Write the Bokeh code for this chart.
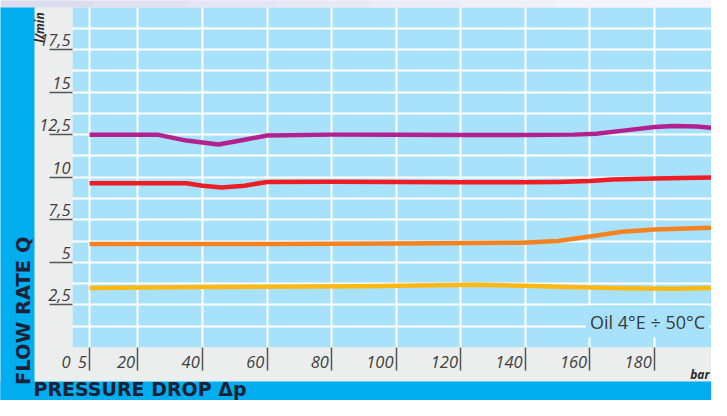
import math
from bokeh.plotting import figure
from bokeh.models import Range1d, FixedTicker, LinearAxis, Label, Grid
from bokeh.embed import file_html
from bokeh.resources import INLINE

# ---------------- data ----------------
x_ticks = [0, 5, 20, 40, 60, 80, 100, 120, 140, 160, 180]
x_tick_labels = ["0", "5", "20", "40", "60", "80", "100", "120", "140", "160", "180"]
x_bar_ticks = [5, 20, 40, 60, 80, 100, 120, 140, 160, 180]
y_ticks = [2.5, 5, 7.5, 10, 12.5, 15, 17.5]
y_tick_labels = ["2,5", "5", "7,5", "10", "12,5", "15", "17,5"]
y_grid = [1.25, 2.5, 3.75, 5, 6.25, 7.5, 8.75, 10, 11.25, 12.5, 13.75, 15, 16.25, 17.5, 18.75]

purple_x = [5, 26, 35, 45, 53, 60, 80, 100, 120, 140, 155, 162, 171, 180, 186, 193, 198]
purple_y = [12.5, 12.5, 12.15, 11.92, 12.2, 12.45, 12.5, 12.5, 12.48, 12.48, 12.5, 12.55, 12.75, 12.95, 13.0, 12.98, 12.9]

red_x = [5, 35, 40, 46, 53, 60, 80, 100, 120, 140, 150, 160, 167, 180, 198]
red_y = [9.65, 9.65, 9.5, 9.4, 9.5, 9.72, 9.74, 9.72, 9.7, 9.7, 9.72, 9.78, 9.87, 9.92, 9.98]

orange_x = [5, 60, 100, 139, 150, 160, 170, 180, 198]
orange_y = [6.08, 6.08, 6.1, 6.15, 6.25, 6.52, 6.8, 6.93, 7.04]

yellow_x = [5, 40, 89, 125, 140, 150, 171, 186, 198]
yellow_y = [3.5, 3.55, 3.6, 3.68, 3.62, 3.56, 3.48, 3.45, 3.5]

# ---------------- layout constants (pixels) ----------------
W, H = 711, 400
OFF = 0                       # picture offset of the canvas
X0_PX, X_PER = 72.86, 3.2286  # x pixel of value 0, px per bar
Y0_PX, Y_PER = 347.0, 17.03   # y pixel of value 0, px per l/min


def dx(px):
    return (px - X0_PX) / X_PER


def dy(py):
    return (Y0_PX - py) / Y_PER


PLOT_BG = "#A8E1FA"
PANEL = "#ECEEEE"
BAND = "#00ADEF"
NAVY = "#1c2236"
TICK_TXT = "#3f3f3f"
FONT = "Open Sans"
TOP_STRIP = ["#DCDCEF", "#E0E0F1", "#E4E4F3", "#E8E8F5", "#ECECF6", "#F0F0F8", "#F3F3F9", "#F5F5FB"]

p = figure(width=W, height=H, output_backend="svg", toolbar_location=None,
           x_range=Range1d(dx(OFF), dx(OFF + W)), y_range=Range1d(dy(OFF + H), dy(OFF)),
           x_axis_type=None, y_axis_type=None,
           min_border=0)
p.background_fill_color = PANEL
p.border_fill_color = PANEL
p.outline_line_color = None
p.xgrid.visible = False
p.ygrid.visible = False

# plotting area background (under the grid)
p.quad(left=[dx(72)], right=[dx(717)], bottom=[0], top=[dy(7)],
       fill_color=PLOT_BG, line_color=None, level="underlay")

# grid
gx = Grid(dimension=0, ticker=FixedTicker(ticks=x_bar_ticks), grid_line_color="white", grid_line_width=2)
gy = Grid(dimension=1, ticker=FixedTicker(ticks=y_grid), grid_line_color="white", grid_line_width=2)
p.add_layout(gx)
p.add_layout(gy)

# surrounding panels (drawn above the grid so that grid lines stop at the plotting area)
p.quad(left=[dx(34), dx(34)], right=[dx(72), dx(717)], bottom=[dy(430), dy(430)], top=[dy(7), 0],
       fill_color=PANEL, line_color=None)
p.quad(left=[dx(713)], right=[dx(714.7)], bottom=[0], top=[dy(7)],
       fill_color="white", line_color=None)
seg = 740 / len(TOP_STRIP)
p.quad(left=[dx(i * seg) for i in range(len(TOP_STRIP))],
       right=[dx((i + 1) * seg + 1) for i in range(len(TOP_STRIP))],
       bottom=[dy(7)] * len(TOP_STRIP), top=[dy(-5)] * len(TOP_STRIP),
       fill_color=TOP_STRIP, line_color=None)
p.quad(left=[dx(717)], right=[dx(740)], bottom=[dy(430)], top=[dy(7)],
       fill_color="#F3F3FA", line_color=None)
p.quad(left=[dx(-5)], right=[dx(34)], bottom=[dy(430)], top=[dy(7)],
       fill_color=BAND, line_color=None)
p.quad(left=[dx(-5)], right=[dx(717)], bottom=[dy(430)], top=[dy(381)],
       fill_color=BAND, line_color=None)

# x axis
xax = LinearAxis(ticker=FixedTicker(ticks=x_ticks, minor_ticks=x_bar_ticks), fixed_location=0)
xax.major_label_overrides = {t: lab + "\u2007" * len(lab) + "\u2009\u2009" for t, lab in zip(x_ticks, x_tick_labels)}
xax.major_tick_out = 0
xax.major_tick_in = 0
xax.major_tick_line_color = None
xax.minor_tick_out = 23
xax.minor_tick_in = 0
xax.minor_tick_line_color = "#555555"
xax.minor_tick_line_width = 1.5
xax.axis_line_color = None
xax.major_label_standoff = -21
xax.major_label_text_font = FONT
xax.major_label_text_font_style = "italic"
xax.major_label_text_font_size = "16.5px"
xax.major_label_text_color = TICK_TXT
p.add_layout(xax, "below")

# y axis
shift = 0.56
y_label_pos = [v + shift for v in y_ticks]
yax = LinearAxis(ticker=FixedTicker(ticks=y_label_pos, minor_ticks=y_ticks), fixed_location=dx(72))
yax.major_label_overrides = {t: lab for t, lab in zip(y_label_pos, y_tick_labels)}
yax.major_tick_out = 0
yax.major_tick_in = 0
yax.major_tick_line_color = None
yax.minor_tick_out = 23
yax.minor_tick_in = 0
yax.minor_tick_line_color = "#555555"
yax.minor_tick_line_width = 1.5
yax.axis_line_color = None
yax.major_label_standoff = -21
yax.major_label_text_font = FONT
yax.major_label_text_font_style = "italic"
yax.major_label_text_font_size = "16.5px"
yax.major_label_text_color = TICK_TXT
p.add_layout(yax, "left")

# data lines
p.line(purple_x, purple_y, line_color="#B3218F", line_width=4.5, line_join="round")
p.line(red_x, red_y, line_color="#EE1C25", line_width=4.5, line_join="round")
p.line(orange_x, orange_y, line_color="#F58220", line_width=4.5, line_join="round")
p.line(yellow_x, yellow_y, line_color="#FDB813", line_width=4.5, line_join="round")

# texts
p.add_layout(Label(x=dx(22.5), y=dy(384.5), text="FLOW RATE Q", angle=math.pi / 2,
                   text_align="left", text_baseline="middle", text_font="DejaVu Sans",
                   text_font_style="bold", text_font_size="19.5px", text_color=NAVY))
p.add_layout(Label(x=dx(33), y=dy(388.5), text="PRESSURE DROP \u0394p",
                   text_align="left", text_baseline="middle", text_font="DejaVu Sans",
                   text_font_style="bold", text_font_size="19px", text_color=NAVY))
p.add_layout(Label(x=dx(39), y=dy(27), text="l/min", angle=math.pi / 2,
                   text_align="center", text_baseline="middle", text_font=FONT,
                   text_font_style="bold italic", text_font_size="12px", text_color="#2a2a2a"))
p.add_layout(Label(x=dx(709), y=dy(374), text="bar",
                   text_align="right", text_baseline="middle", text_font=FONT,
                   text_font_style="bold italic", text_font_size="12px", text_color="#2a2a2a"))
p.add_layout(Label(x=dx(647), y=dy(321), text="Oil 4\u00b0E \u00f7 50\u00b0C",
                   text_align="center", text_baseline="middle", text_font=FONT,
                   text_font_size="18px", text_color="#3a3a3a",
                   background_fill_color=PLOT_BG, background_fill_alpha=1, padding=4))

open("out.html", "w").write(file_html(p, INLINE))
